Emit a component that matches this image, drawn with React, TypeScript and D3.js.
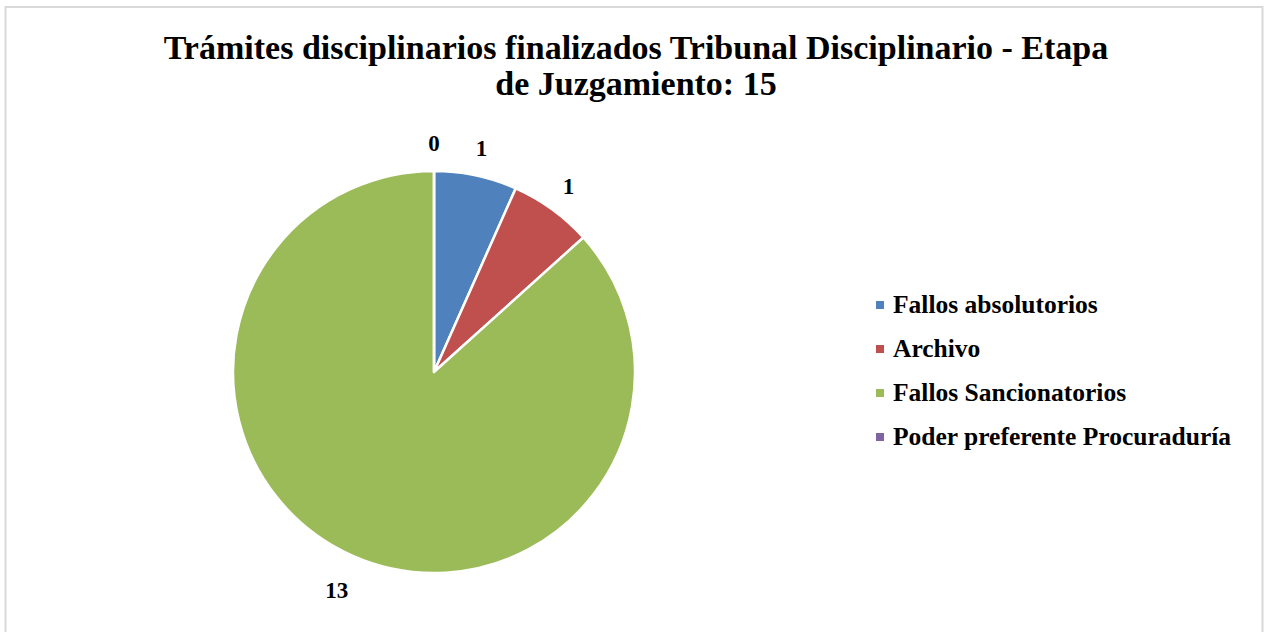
import React from "react";
import * as d3 from "d3";

const categories = ["Fallos absolutorios", "Archivo", "Fallos Sancionatorios", "Poder preferente Procuraduría"];
const values = [1, 1, 13, 0];
const colors = ["#4F81BD", "#C0504D", "#9BBB59", "#8064A2"];
const titleLines = ["Trámites disciplinarios finalizados Tribunal Disciplinario - Etapa", "de Juzgamiento: 15"];

const W = 1265;
const H = 632;
const FONT = "'Liberation Serif', serif";

export default function App() {
  const cx = 434;
  const cy = 372;
  const r = 201;
  const pie = d3.pie<number>().sort(null).value((d) => d)(values);
  const arc = d3.arc<d3.PieArcDatum<number>>().innerRadius(0).outerRadius(r);
  const labelArc = d3.arc<d3.PieArcDatum<number>>().innerRadius(r + 28).outerRadius(r + 28);
  const legendY = d3.scalePoint<number>().domain(d3.range(categories.length)).range([305, 437]);

  return (
    <svg width={W} height={H} style={{ position: "absolute", left: 0, top: 0, background: "#fff" }}>
      <rect x={5.5} y={7} width={1257} height={640} fill="#fff" stroke="#d9d9d9" strokeWidth={2} />
      <g fontFamily={FONT} fontWeight="bold" fill="#000" textAnchor="middle" fontSize={34}>
        {titleLines.map((t, i) => (
          <text key={i} x={636} y={59 + i * 36}>{t}</text>
        ))}
      </g>
      <g transform={`translate(${cx},${cy})`}>
        {pie.map((p, i) => (
          <path key={i} d={arc(p) || ""} fill={colors[i]} stroke="#fff" strokeWidth={2.5} strokeLinejoin="round" />
        ))}
        {pie.map((p, i) => {
          const [x, y] = labelArc.centroid(p);
          const extra = String(values[i]).length > 1 ? 10 : 0;
          const ang = (p.startAngle + p.endAngle) / 2;
          return (
            <text key={"l" + i} x={x + Math.sin(ang) * extra} y={y - Math.cos(ang) * extra} textAnchor="middle" dominantBaseline="central" fontFamily={FONT} fontWeight="bold" fontSize={23}>
              {values[i]}
            </text>
          );
        })}
      </g>
      <g fontFamily={FONT} fontWeight="bold" fontSize={25.5}>
        {categories.map((c, i) => (
          <g key={i} transform={`translate(876,${legendY(i)})`}>
            <rect x={0} y={-4} width={8} height={8} fill={colors[i]} />
            <text x={17} y={8}>{c}</text>
          </g>
        ))}
      </g>
    </svg>
  );
}
